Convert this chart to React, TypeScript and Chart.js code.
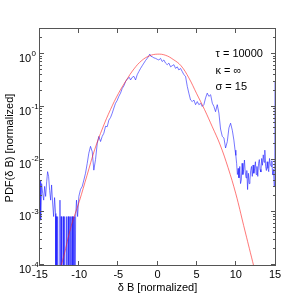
import { useEffect, useRef } from "react";
import { Chart, registerables } from "chart.js";
Chart.register(...registerables);

const xTicks = [-15, -10, -5, 0, 5, 10, 15];
const yTickExponents = [0, -1, -2, -3, -4];
const annotationLines = ["τ = 10000", "κ = ∞", "σ = 15"];
const xTitle = "δ B [normalized]";
const yTitle = "PDF(δ B) [normalized]";

// Red (fit) curve
const fitX = [-12.5, -12, -11, -10, -9, -8, -7, -6, -5, -4, -3, -2, -1, 0, 1, 2, 3, 4, 5, 6, 7, 8, 9, 10, 11, 12, 12.5];
const fitY = [7.9e-5, 1.41e-4, 5.6e-4, 1.58e-3, 5.0e-3, 0.0158, 0.0398, 0.089, 0.178, 0.316, 0.525, 0.759, 0.933, 1.0, 0.955, 0.794, 0.603, 0.355, 0.178, 0.089, 0.0417, 0.019, 0.00708, 0.00224, 5.6e-4, 1.41e-4, 7.1e-5];

// Blue (measured PDF); 1e-6 marks empty bins (zero)
const pdfX = [
  -15.0, -14.92, -14.79, -14.66, -14.53, -14.41, -14.28, -14.15, -14.03, -13.9, -13.77, -13.64, -13.52, -13.39, -13.26, -13.14, -13.01,
  -12.98, -12.95, -12.9, -12.78, -12.75, -12.7, -12.5, -12.45, -12.4, -12.33, -12.3, -12.25, -12.1, -12.05, -12.0, -11.88, -11.85, -11.8,
  -11.63, -11.6, -11.55, -11.43, -11.4, -11.35, -11.23, -11.2, -11.15, -11.08, -11.05, -11.0, -10.93, -10.9, -10.85, -10.78, -10.75, -10.7, -10.63, -10.6, -10.55,
  -10.45, -10.34, -10.2, -10.04, -9.83, -9.61, -9.4, -9.19, -8.97, -8.77, -8.55, -8.33, -8.13, -7.91, -7.69, -7.49, -7.27, -7.06, -6.85, -6.63, -6.42, -6.21, -5.99, -5.78, -5.57, -5.36, -5.15, -4.94, -4.72, -4.5, -4.29, -4.08, -3.79, -3.6, -3.44, -3.23, -3.02, -2.8, -2.59, -2.38, -2.16, -1.95, -1.74, -1.52, -1.31, -1.1, -0.98, -0.85, -0.67, -0.46, -0.25,
  0.0, 0.17, 0.39, 0.6, 0.81, 1.03, 1.24, 1.45, 1.67, 1.88, 2.09, 2.31, 2.52, 2.73, 2.94, 3.16, 3.37, 3.58, 3.8, 4.0, 4.22, 4.44, 4.64, 4.86, 5.08, 5.28, 5.5, 5.71, 5.92, 6.14, 6.35, 6.56, 6.78, 7.0, 7.2, 7.41, 7.63, 7.84, 8.05, 8.27, 8.48, 8.69, 8.91, 9.12, 9.33, 9.55, 9.75, 9.9,
  10.0, 10.1, 10.2, 10.3, 10.4, 10.5, 10.6, 10.7, 10.8, 10.9, 11.0, 11.1, 11.2, 11.3, 11.4, 11.5, 11.6, 11.7, 11.8, 11.9, 12.0, 12.1, 12.2, 12.3, 12.4, 12.5, 12.6, 12.7, 12.8, 12.9,
  13.0, 13.1, 13.2, 13.3, 13.4, 13.5, 13.6, 13.7, 13.8, 13.9, 14.0, 14.1, 14.2, 14.3, 14.4, 14.5, 14.6, 14.7, 14.8, 14.9, 14.97, 15.0,
];
const pdfY = [
  4.1e-3, 7.1e-4, 3.5e-3, 2.3e-3, 1.7e-3, 3.1e-3, 2.0e-3, 3.8e-3, 5.9e-3, 4.8e-3, 2.6e-3, 1.7e-3, 3.3e-3, 1.5e-3, 8.3e-4, 1.9e-3, 9.5e-4,
  1e-6, 8.3e-4, 1e-6, 1e-6, 8.3e-4, 1e-6, 1e-6, 1.7e-3, 1e-6, 1e-6, 8.3e-4, 1e-6, 1e-6, 8.3e-4, 1e-6, 1e-6, 8.3e-4, 1e-6,
  1e-6, 8.3e-4, 1e-6, 1e-6, 8.3e-4, 1e-6, 1e-6, 8.3e-4, 1e-6, 1e-6, 8.3e-4, 1e-6, 1e-6, 8.3e-4, 1e-6, 1e-6, 8.3e-4, 1e-6, 1e-6, 8.3e-4, 1e-6,
  8.3e-4, 1.7e-3, 8.3e-4, 2.0e-3, 2.7e-3, 3.1e-3, 4.1e-3, 5.5e-3, 8.5e-3, 0.0132, 0.0178, 0.0141, 6.3e-3, 0.01, 0.0204, 0.0275, 0.022, 0.0275, 0.0316, 0.043, 0.042, 0.056, 0.063, 0.076, 0.095, 0.117, 0.132, 0.158, 0.182, 0.224, 0.251, 0.302, 0.347, 0.363, 0.324, 0.363, 0.38, 0.324, 0.407, 0.468, 0.537, 0.603, 0.676, 0.759, 0.832, 0.933, 1.0, 0.912, 0.891, 0.851, 0.832,
  0.794, 0.776, 0.832, 0.724, 0.776, 0.676, 0.631, 0.676, 0.575, 0.603, 0.631, 0.537, 0.575, 0.501, 0.537, 0.468, 0.407, 0.38, 0.245, 0.182, 0.135, 0.126, 0.135, 0.11, 0.126, 0.11, 0.117, 0.102, 0.11, 0.148, 0.182, 0.158, 0.17, 0.117, 0.102, 0.081, 0.11, 0.076, 0.038, 0.0275, 0.0257, 0.0166, 0.0219, 0.04, 0.049, 0.036, 0.0234, 0.0151,
  0.012, 0.0085, 0.0052, 0.0068, 0.0045, 0.0074, 0.0035, 0.0041, 0.0085, 0.0052, 0.0065, 0.0098, 0.0058, 0.0045, 0.0062, 0.0027, 0.0055, 0.0035, 0.0041, 0.0062, 0.0074, 0.0048, 0.0079, 0.0055, 0.0068, 0.0091, 0.0052, 0.0074, 0.0048, 0.0085,
  0.01, 0.0065, 0.0058, 0.0105, 0.0078, 0.0123, 0.0089, 0.0151, 0.0074, 0.0062, 0.0091, 0.0068, 0.0059, 0.0105, 0.0082, 0.0074, 0.0095, 0.0051, 0.0065, 0.0031, 0.0041, 0.3,
];

const FONT = '"Liberation Sans", Arial, sans-serif';

const framePlugin = {
  id: "matlabFrame",
  afterDraw(chart: any) {
    const ctx = chart.ctx as CanvasRenderingContext2D;
    const a = chart.chartArea;
    const xs = chart.scales.x;
    const ys = chart.scales.y;
    ctx.save();
    ctx.strokeStyle = "#555";
    ctx.lineWidth = 1;
    ctx.strokeRect(a.left - 0.5, a.top - 0.5, a.right - a.left + 1, a.bottom - a.top + 1);
    ctx.beginPath();
    for (const t of xTicks) {
      if (t === xTicks[0] || t === xTicks[xTicks.length - 1]) continue;
      const px = Math.round(xs.getPixelForValue(t)) - 0.5;
      ctx.moveTo(px, a.bottom);
      ctx.lineTo(px, a.bottom - 4);
      ctx.moveTo(px, a.top);
      ctx.lineTo(px, a.top + 4);
    }
    for (let e = -4; e <= 0; e++) {
      for (let k = 1; k <= 9; k++) {
        const v = k * Math.pow(10, e);
        if (v > ys.max + 1e-9) continue;
        const py = Math.round(ys.getPixelForValue(v)) - 0.5;
        const len = k === 1 ? 4 : 2;
        ctx.moveTo(a.left, py);
        ctx.lineTo(a.left + len, py);
        ctx.moveTo(a.right, py);
        ctx.lineTo(a.right - len, py);
      }
    }
    ctx.stroke();

    ctx.fillStyle = "#000";
    ctx.font = `11px ${FONT}`;
    ctx.textAlign = "center";
    ctx.textBaseline = "middle";
    for (const t of xTicks) {
      ctx.fillText(String(t), xs.getPixelForValue(t), a.bottom + 10);
    }
    for (const e of yTickExponents) {
      const py = ys.getPixelForValue(Math.pow(10, e));
      ctx.font = `11px ${FONT}`;
      ctx.textAlign = "left";
      ctx.textBaseline = "middle";
      ctx.fillText("10", 19, py + 5);
      ctx.font = `8px ${FONT}`;
      ctx.fillText(String(e), 31.5, py - 0.5);
    }
    ctx.font = `11px ${FONT}`;
    ctx.textAlign = "center";
    ctx.textBaseline = "middle";
    ctx.fillText(xTitle, (a.left + a.right) / 2, a.bottom + 23);
    ctx.save();
    ctx.translate(10, (a.top + a.bottom) / 2 + 1);
    ctx.rotate(-Math.PI / 2);
    ctx.fillText(yTitle, 0, 0);
    ctx.restore();
    ctx.textAlign = "left";
    annotationLines.forEach((s, i) => {
      ctx.fillText(s, 215.5, 54 + i * 16.5);
    });
    ctx.restore();
  },
};

export default function App() {
  const ref = useRef<HTMLCanvasElement | null>(null);
  useEffect(() => {
    document.body.style.margin = "0";
    if (!ref.current) return;
    const chart = new Chart(ref.current, {
      type: "line",
      data: {
        datasets: [
          {
            label: "fit",
            data: fitX.map((x, i) => ({ x, y: fitY[i] })),
            borderColor: "rgba(255,30,30,0.6)",
            borderWidth: 1,
            pointRadius: 0,
            tension: 0.4,
            fill: false,
          },
          {
            label: "pdf",
            data: pdfX.map((x, i) => ({ x, y: pdfY[i] })),
            borderColor: "rgba(30,30,255,0.6)",
            borderWidth: 1,
            pointRadius: 0,
            tension: 0,
            fill: false,
          },
        ],
      },
      options: {
        animation: false,
        responsive: false,
        devicePixelRatio: 1,
        layout: { padding: { left: 40, top: 29, right: 30, bottom: 40 } },
        plugins: { legend: { display: false }, tooltip: { enabled: false } },
        events: [],
        scales: {
          x: { type: "linear", min: -15, max: 15, display: false },
          y: { type: "logarithmic", min: 1e-4, max: 3, display: false },
        },
      },
      plugins: [framePlugin],
    });
    return () => chart.destroy();
  }, []);
  return (
    <div style={{ width: 305, height: 305, background: "#fff" }}>
      <canvas ref={ref} width={305} height={305} style={{ width: 305, height: 305, display: "block" }} />
    </div>
  );
}
